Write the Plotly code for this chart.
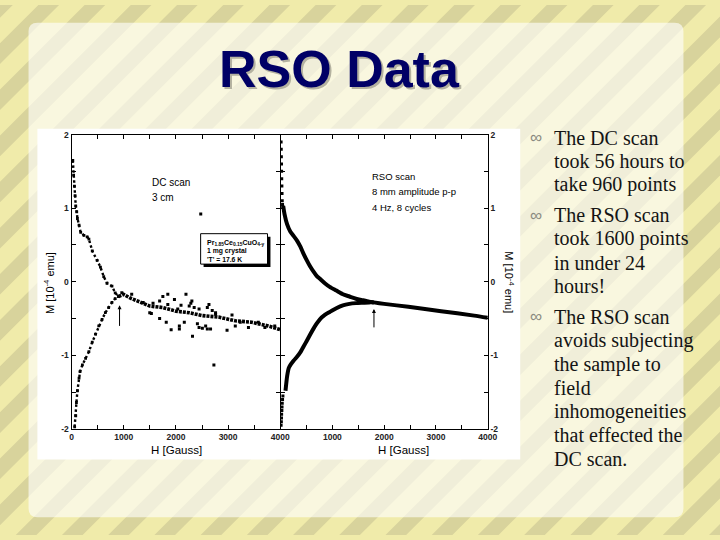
import plotly.graph_objects as go

# ---------------- data ----------------
# DC scan, upper branch (field H in Gauss, moment M in 1e-4 emu)
dc_up_h = [25, 40, 55, 68, 81, 100, 113, 144, 176, 238, 300, 333, 397, 491, 554, 617, 680, 775, 837, 900]
dc_up_m = [1.65, 1.45, 1.30, 1.17, 1.03, 0.95, 0.86, 0.77, 0.67, 0.63, 0.61, 0.58, 0.42, 0.29, 0.20, 0.07, -0.02, -0.06, -0.15, -0.20]
# DC scan, lower branch
dc_lo_h = [60, 81, 94, 113, 144, 163, 208, 270, 333, 397, 459, 522, 586, 648, 711, 775, 837, 900]
dc_lo_m = [-1.97, -1.82, -1.64, -1.48, -1.31, -1.22, -1.13, -1.04, -0.95, -0.82, -0.71, -0.60, -0.51, -0.42, -0.35, -0.28, -0.23, -0.20]
# DC scan, common high-field branch
dc_hi_h = [900, 995, 1121, 1310, 1499, 1750, 2004, 2255, 2507, 2822, 3138, 3452, 3768, 4000]
dc_hi_m = [-0.20, -0.17, -0.22, -0.28, -0.33, -0.35, -0.40, -0.42, -0.46, -0.48, -0.53, -0.55, -0.60, -0.65]
# DC scan, scattered points
dc_sc_h = [964, 1153, 1373, 1499, 1530, 1562, 1688, 1688, 1750, 1815, 1845, 1845, 1909, 1972, 2035, 2066, 2066,
           2098, 2161, 2193, 2255, 2286, 2306, 2318, 2350, 2412, 2444, 2444, 2476, 2507, 2570, 2602, 2602, 2633,
           2664, 2696, 2728, 2760, 2760, 2980, 3075, 3138, 3232, 3390, 3579, 3705, 3894]
dc_sc_m = [-0.15, -0.17, -0.28, -0.42, -0.43, -0.29, -0.50, -0.26, -0.20, -0.55, -0.31, -0.17, -0.65, -0.24, -0.37, -0.60, -0.64,
           -0.32, -0.55, -0.17, -0.33, -0.29, -0.26, -0.74, -0.35, -0.57, -0.37, -0.62, 0.92, -0.63, -0.60, -0.35, -0.64, -0.31,
           -0.64, -0.39, -1.13, -0.42, -0.44, -0.66, -0.45, -0.60, -0.55, -0.62, -0.55, -0.62, -0.60]

# RSO scan, upper branch continuing into the common branch
rso_up_h = [51, 76, 127, 190, 254, 317, 380, 444, 507, 569, 633, 696, 759, 854, 949, 1076, 1203, 1329, 1455, 1582,
            1710, 1800, 2000, 2467, 3100, 3738, 4000]
rso_up_m = [1.03, 0.92, 0.78, 0.68, 0.62, 0.56, 0.48, 0.38, 0.29, 0.21, 0.14, 0.08, 0.04, -0.02, -0.07, -0.12, -0.17, -0.20,
            -0.23, -0.25, -0.27, -0.28, -0.30, -0.34, -0.40, -0.46, -0.49]
# RSO scan, lower branch
rso_lo_h = [95, 127, 159, 200, 254, 317, 380, 444, 507, 569, 633, 696, 759, 854, 949, 1076, 1203, 1329, 1455, 1582, 1710, 1800]
rso_lo_m = [-1.48, -1.28, -1.17, -1.12, -1.07, -1.02, -0.96, -0.88, -0.80, -0.72, -0.64, -0.57, -0.51, -0.45, -0.41, -0.36,
            -0.32, -0.30, -0.29, -0.285, -0.28, -0.28]
# RSO scan, low-field points
rso_pt_h = [10, 13, 15, 18, 20, 22, 25, 28, 32, 38, 45, 10, 15, 18, 20, 25, 28, 32, 38, 45]
rso_pt_m = [1.90, 1.80, 1.70, 1.60, 1.50, 1.40, 1.30, 1.20, 1.10, 1.05, 1.02, -1.95, -1.90, -1.85, -1.80, -1.75, -1.70,
            -1.65, -1.60, -1.55]

# arrows marking the merge fields
dc_arrow_h = 920
rso_arrow_h = 1803

# tick labels
x_tickvals = [0, 500, 1000, 1500, 2000, 2500, 3000, 3500, 4000]
x_ticktext_left = ["0", " ", "1000", " ", "2000", " ", "3000", " ", "4000"]
x_ticktext_right = [" ", " ", "1000", " ", "2000", " ", "3000", " ", "4000"]
y_tickvals = [-2, -1.5, -1, -0.5, 0, 0.5, 1, 1.5, 2]
y_ticktext = ["-2", " ", "-1", " ", "0", " ", "1", " ", "2"]

title_text = "RSO Data"
bullet_paragraphs = [
    ["The DC scan", "took 56 hours to", "take 960 points"],
    ["The RSO scan", "took 1600 points", "in under 24", "hours!"],
    ["The RSO scan", "avoids subjecting", "the sample to", "field", "inhomogeneities", "that effected the", "DC scan."],
]

# ---------------- figure ----------------
W, H = 720, 540


def fx(x):
    return x / W


def fy(y):
    return 1 - y / H


L0, L1 = 70.7, 283.0
R0, R1 = 283.3, 494.0
T, B = 132.0, 432.0

SANS = "Liberation Sans, Arial, sans-serif"
SERIF = "Liberation Serif, Times New Roman, serif"

fig = go.Figure()

fig.add_trace(go.Scatter(x=dc_up_h, y=dc_up_m, mode="lines+markers", xaxis="x", yaxis="y",
                         line=dict(color="black", width=2.4, dash="2.5px,2.5px"),
                         marker=dict(symbol="square", size=2.8, color="black")))
fig.add_trace(go.Scatter(x=dc_lo_h, y=dc_lo_m, mode="lines+markers", xaxis="x", yaxis="y",
                         line=dict(color="black", width=2.4, dash="2.5px,2.5px"),
                         marker=dict(symbol="square", size=2.8, color="black")))
fig.add_trace(go.Scatter(x=dc_hi_h, y=dc_hi_m, mode="lines", xaxis="x", yaxis="y",
                         line=dict(color="black", width=3.6, dash="3px,1px")))
fig.add_trace(go.Scatter(x=dc_sc_h, y=dc_sc_m, mode="markers", xaxis="x", yaxis="y",
                         marker=dict(symbol="square", size=3, color="black")))

fig.add_trace(go.Scatter(x=rso_up_h, y=rso_up_m, mode="lines", xaxis="x2", yaxis="y2",
                         line=dict(color="black", width=4, shape="spline", smoothing=0.6)))
fig.add_trace(go.Scatter(x=rso_lo_h, y=rso_lo_m, mode="lines", xaxis="x2", yaxis="y2",
                         line=dict(color="black", width=4, shape="spline", smoothing=0.6)))
fig.add_trace(go.Scatter(x=rso_pt_h, y=rso_pt_m, mode="markers", xaxis="x2", yaxis="y2",
                         marker=dict(symbol="square", size=3, color="black")))

axis_common = dict(showline=True, linecolor="black", linewidth=1, mirror="ticks", ticks="inside",
                   ticklen=4, tickwidth=1, tickcolor="black", showgrid=False, zeroline=False,
                   tickfont=dict(family=SANS, size=8.5, color="#222", weight="bold"))

fig.update_layout(
    width=W, height=H, margin=dict(l=0, r=0, t=0, b=0), autosize=False,
    paper_bgcolor="#f0ebaa", plot_bgcolor="rgba(0,0,0,0)", showlegend=False,
    xaxis=dict(domain=[fx(L0), fx(L1)], range=[0, 4000], anchor="y", tickmode="array",
               tickvals=x_tickvals, ticktext=x_ticktext_left, **axis_common),
    yaxis=dict(domain=[fy(B), fy(T)], range=[-2, 2], anchor="x", tickmode="array",
               tickvals=y_tickvals, ticktext=y_ticktext, **axis_common),
    xaxis2=dict(domain=[fx(R0), fx(R1)], range=[0, 4000], anchor="y2", tickmode="array",
                tickvals=x_tickvals, ticktext=x_ticktext_right, **axis_common),
    yaxis2=dict(domain=[fy(B), fy(T)], range=[-2, 2], anchor="x2", side="right", tickmode="array",
                tickvals=y_tickvals, ticktext=y_ticktext, **axis_common),
)

# ---------------- background shapes ----------------
shapes = []
shapes.append(dict(type="rect", xref="paper", yref="paper", x0=0, y0=0, x1=1, y1=1,
                   fillcolor="#f0ebaa", line=dict(width=0), layer="below"))
P, SW, PH = 47, 21, 37
parts = []
c = PH - 47 * 14
while c < W + H + 60:
    pts = [(c, 0), (c + SW, 0), (c + SW - H, H), (c - H, H)]
    parts.append("M " + " L ".join(f"{fx(a):.5f},{fy(b):.5f}" for a, b in pts) + " Z")
    c += P
shapes.append(dict(type="path", xref="paper", yref="paper", path=" ".join(parts),
                   fillcolor="#d8d39c", line=dict(width=0), layer="below"))


def rounded(x0, y0, x1, y1, r):
    p = [f"M {fx(x0 + r)},{fy(y0)}", f"L {fx(x1 - r)},{fy(y0)}", f"Q {fx(x1)},{fy(y0)} {fx(x1)},{fy(y0 + r)}",
         f"L {fx(x1)},{fy(y1 - r)}", f"Q {fx(x1)},{fy(y1)} {fx(x1 - r)},{fy(y1)}", f"L {fx(x0 + r)},{fy(y1)}",
         f"Q {fx(x0)},{fy(y1)} {fx(x0)},{fy(y1 - r)}", f"L {fx(x0)},{fy(y0 + r)}",
         f"Q {fx(x0)},{fy(y0)} {fx(x0 + r)},{fy(y0)}", "Z"]
    return " ".join(p)


shapes.append(dict(type="path", xref="paper", yref="paper", path=rounded(27, 18, 693, 522, 9),
                   fillcolor="white", opacity=0.62, line=dict(width=0), layer="below"))
# white chart area
shapes.append(dict(type="rect", xref="paper", yref="paper", x0=fx(36), x1=fx(527), y0=fy(463), y1=fy(126),
                   fillcolor="white", line=dict(width=0), layer="below"))
# sample box with shadow
shapes.append(dict(type="rect", xref="paper", yref="paper", x0=fx(205), x1=fx(273), y0=fy(267), y1=fy(236),
                   fillcolor="black", line=dict(width=0), layer="below"))
shapes.append(dict(type="rect", xref="paper", yref="paper", x0=fx(202), x1=fx(270), y0=fy(264), y1=fy(233),
                   fillcolor="white", line=dict(width=1, color="black"), layer="below"))
fig.update_layout(shapes=shapes)

# ---------------- annotations ----------------
ann = []


def text(x, y, s, size, family=SANS, color="black", xanchor="left", angle=0, **kw):
    ann.append(dict(xref="paper", yref="paper", x=fx(x), y=fy(y), text=s, showarrow=False,
                    xanchor=xanchor, yanchor="middle", textangle=angle,
                    font=dict(family=family, size=size, color=color, **kw)))


# title with shadow
text(345, 67, title_text, 52, color="#b4b2a0", xanchor="center", weight="bold")
text(343, 65, title_text, 52, color="#000066", xanchor="center", weight="bold")

# chart texts
text(150, 181, "DC scan", 10)
text(150, 196, "3 cm", 10)
text(374, 175, "RSO scan", 9.5)
text(374, 190, "8 mm amplitude p-p", 9.5)
text(374, 206, "4 Hz, 8 cycles", 9.5)
text(206, 242, "Pr<sub>1.85</sub>Ce<sub>0.15</sub>CuO<sub>4-y</sub>", 7, weight="bold")
text(206, 251, "1 mg crystal", 6.8, weight="bold")
text(206, 259, "'T' = 17.6 K", 6.8, weight="bold")
text(177, 453, "H [Gauss]", 11.5, xanchor="center")
text(408, 453, "H [Gauss]", 11.5, xanchor="center")
text(48, 283, "M [10<sup>-4</sup> emu]", 11, xanchor="center", angle=-90)
text(516, 283, "M [10<sup>-4</sup> emu]", 11, xanchor="center", angle=90)

# bullets
y = 135
step, gap = 24.1, 7
for para in bullet_paragraphs:
    text(535, y, "∞", 17, color="#8a8a80")
    for line in para:
        text(559, y, line, 20, family=SERIF, color="#141414")
        y += step
    y += gap

# arrows
ann.append(dict(xref="x", yref="y", axref="x", ayref="y", x=dc_arrow_h, y=-0.32, ax=dc_arrow_h, ay=-0.62,
                text="", showarrow=True, arrowhead=2, arrowsize=0.8, arrowwidth=1, arrowcolor="black"))
ann.append(dict(xref="x2", yref="y2", axref="x2", ayref="y2", x=rso_arrow_h, y=-0.37, ax=rso_arrow_h, ay=-0.64,
                text="", showarrow=True, arrowhead=2, arrowsize=0.8, arrowwidth=1, arrowcolor="black"))

fig.update_layout(annotations=ann)
fig.write_html(
    "out.html",
    config={"displayModeBar": False, "staticPlot": True},
    post_script="document.documentElement.style.margin='0';document.body.style.margin='0';"
                "document.body.style.overflow='hidden';document.body.style.background='#f0ebaa';",
)
